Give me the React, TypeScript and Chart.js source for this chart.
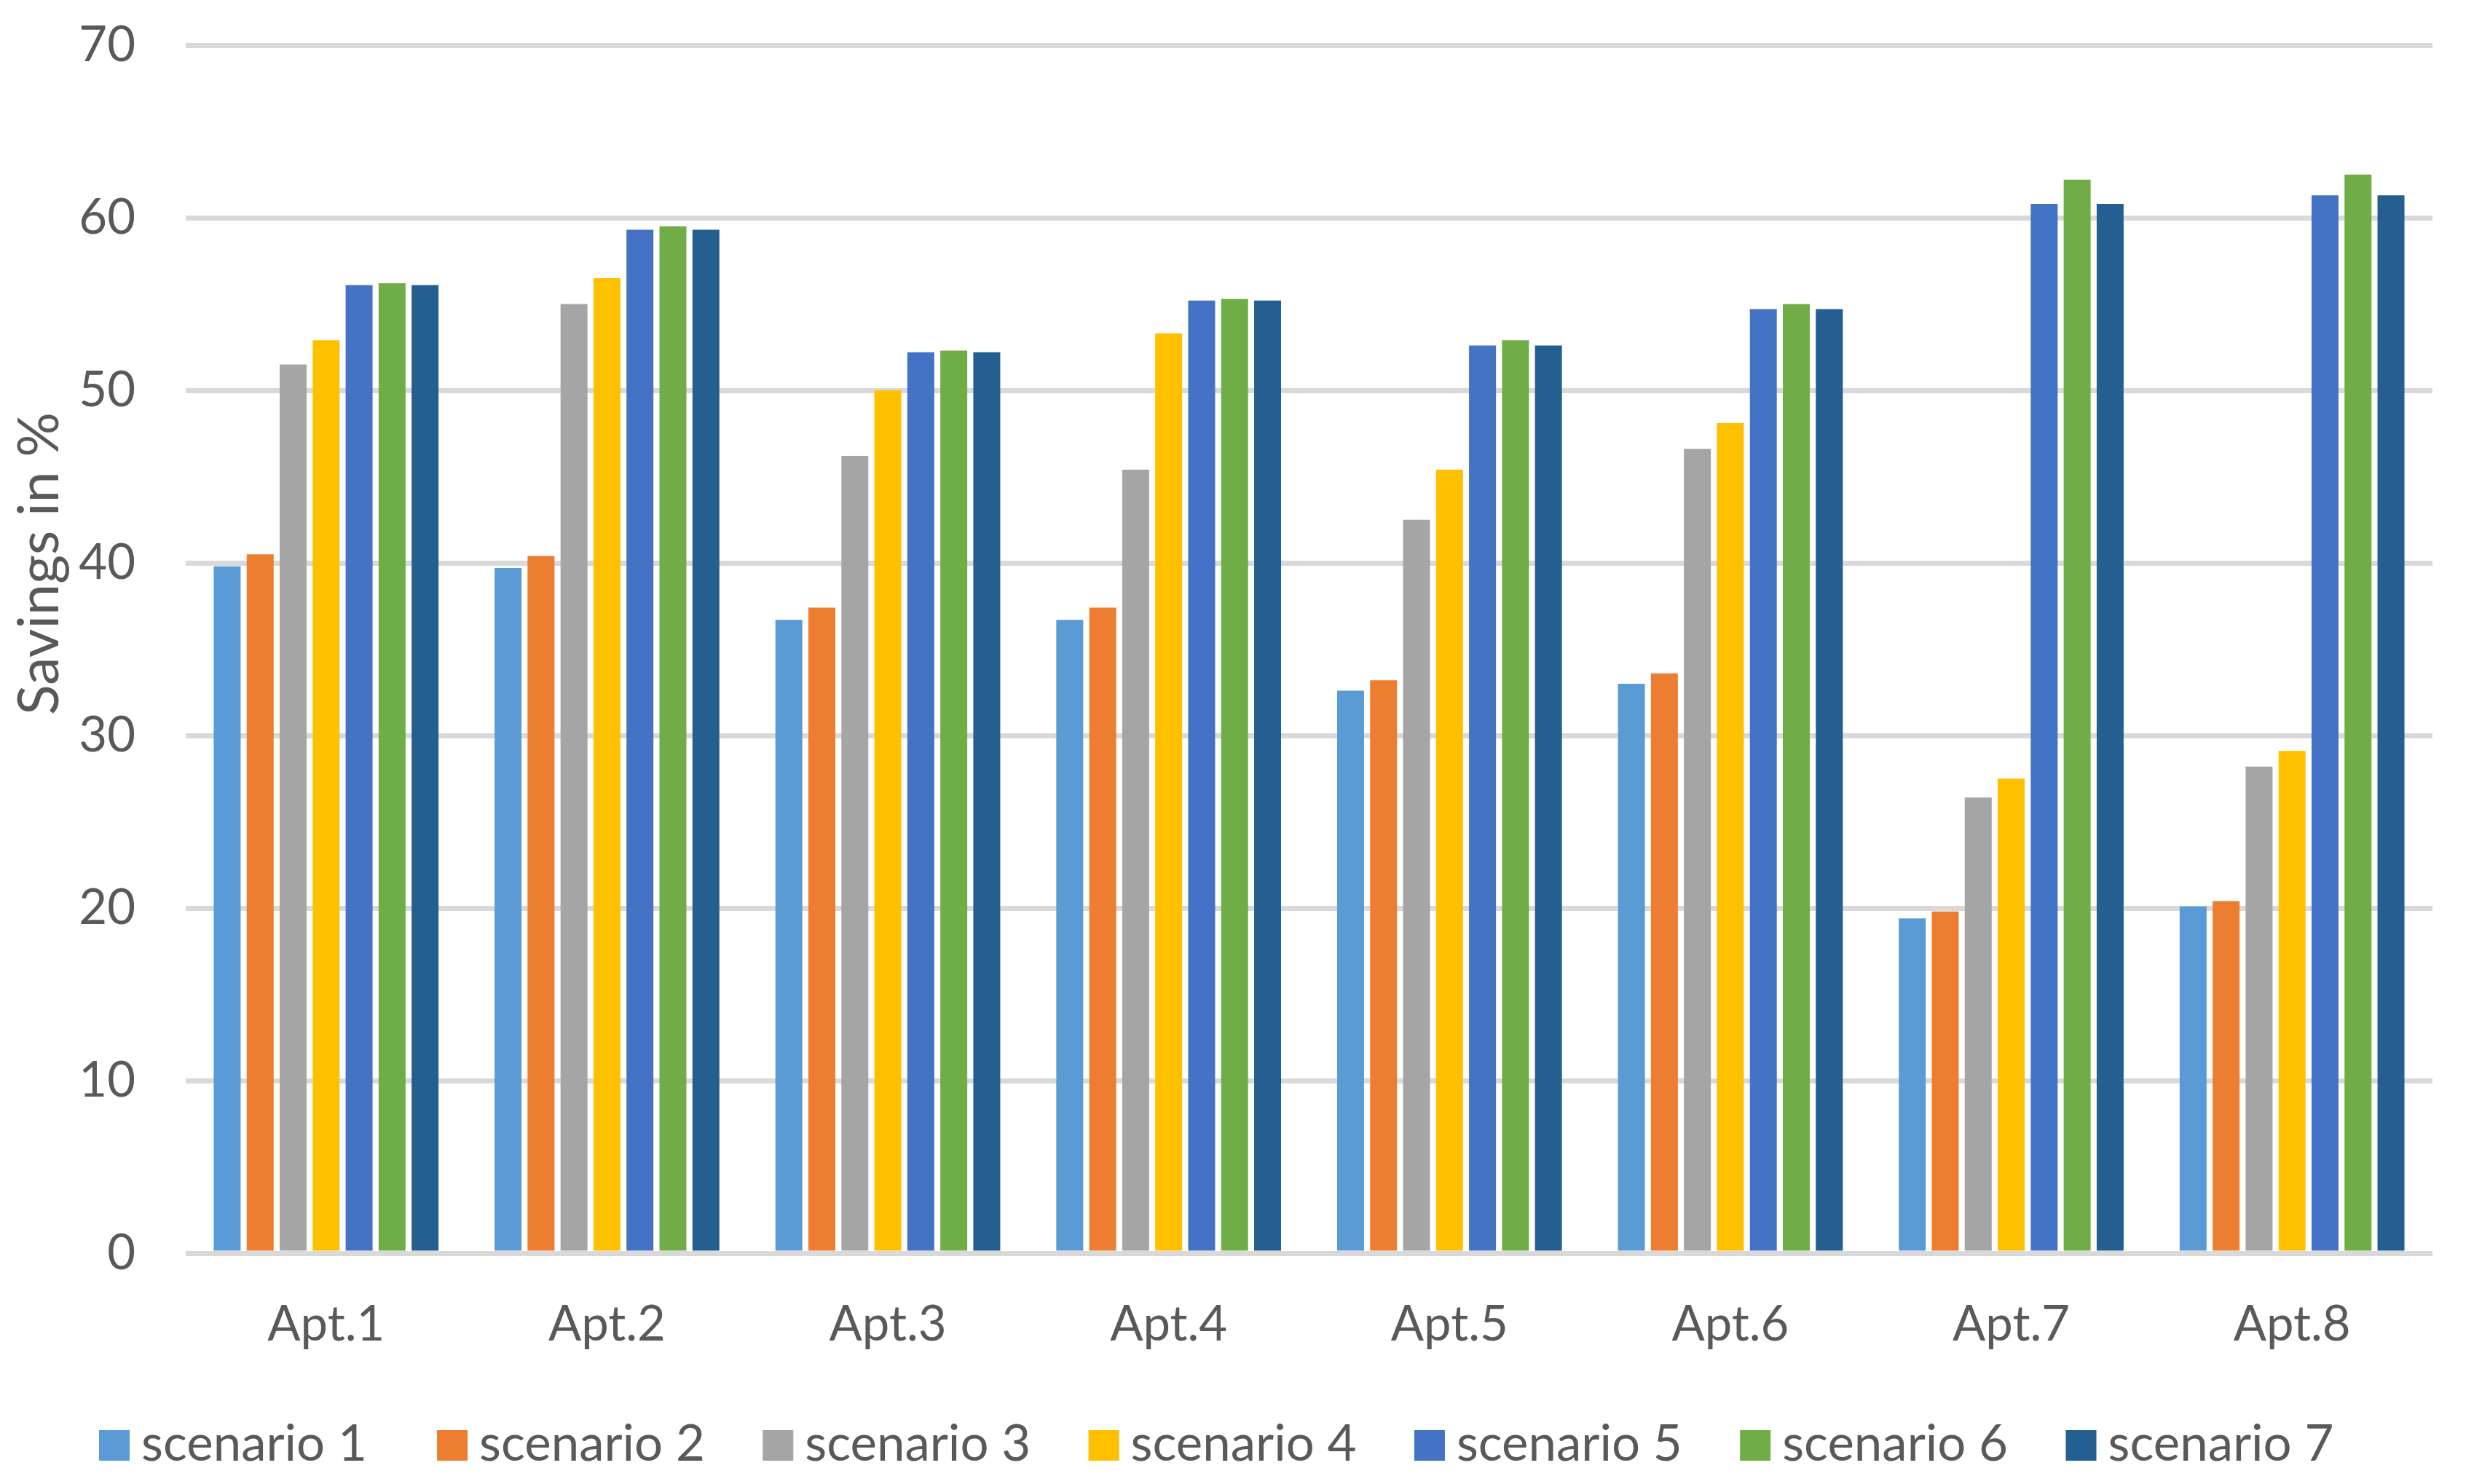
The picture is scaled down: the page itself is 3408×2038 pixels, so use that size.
import React, { useEffect, useRef } from "react";
import { Chart, registerables } from "chart.js";

Chart.register(...registerables);

const categories = ["Apt.1", "Apt.2", "Apt.3", "Apt.4", "Apt.5", "Apt.6", "Apt.7", "Apt.8"];
const seriesNames = ["scenario 1", "scenario 2", "scenario 3", "scenario 4", "scenario 5", "scenario 6", "scenario 7"];
const scenario1 = [39.8, 39.7, 36.7, 36.7, 32.6, 33.0, 19.4, 20.1];
const scenario2 = [40.5, 40.4, 37.4, 37.4, 33.2, 33.6, 19.8, 20.4];
const scenario3 = [51.5, 55.0, 46.2, 45.4, 42.5, 46.6, 26.4, 28.2];
const scenario4 = [52.9, 56.5, 50.0, 53.3, 45.4, 48.1, 27.5, 29.1];
const scenario5 = [56.1, 59.3, 52.2, 55.2, 52.6, 54.7, 60.8, 61.3];
const scenario6 = [56.2, 59.5, 52.3, 55.3, 52.9, 55.0, 62.2, 62.5];
const scenario7 = [56.1, 59.3, 52.2, 55.2, 52.6, 54.7, 60.8, 61.3];
const seriesValues = [scenario1, scenario2, scenario3, scenario4, scenario5, scenario6, scenario7];
const seriesColors = ["#5B9BD5", "#ED7D31", "#A5A5A5", "#FFC000", "#4472C4", "#70AD47", "#255E91"];
const yTitle = "Savings in %";
const yMin = 0;
const yMax = 70;
const yStep = 10;

const TEXT = "#595959";
const FONT = "Lato";

const titlePlugin = {
  id: "yTitle",
  afterDraw(chart: any) {
    const ctx = chart.ctx;
    ctx.save();
    ctx.fillStyle = TEXT;
    ctx.font = `77px ${FONT}`;
    ctx.textAlign = "center";
    ctx.textBaseline = "alphabetic";
    ctx.translate(80, 774);
    ctx.rotate(-Math.PI / 2);
    ctx.fillText(yTitle, 0, 0);
    ctx.restore();
  },
};

const legendPlugin = {
  id: "customLegend",
  afterDraw(chart: any) {
    const ctx = chart.ctx;
    ctx.save();
    ctx.font = `69px ${FONT}`;
    ctx.textAlign = "left";
    ctx.textBaseline = "alphabetic";
    chart.data.datasets.forEach((ds: any, i: number) => {
      const x = i === 0 ? 136 : 600 + (i - 1) * 447.3;
      ctx.fillStyle = ds.backgroundColor;
      ctx.fillRect(x, 1964, 42, 42);
      ctx.fillStyle = TEXT;
      ctx.fillText(ds.label, x + 58, 2006);
    });
    ctx.restore();
  },
};

export default function App() {
  const ref = useRef<HTMLCanvasElement | null>(null);
  useEffect(() => {
    if (!ref.current) return;
    const chart = new Chart(ref.current, {
      type: "bar",
      data: {
        labels: categories,
        datasets: seriesNames.map((name, i) => ({
          label: name,
          data: seriesValues[i],
          backgroundColor: seriesColors[i],
          borderWidth: 0,
          categoryPercentage: 0.822,
          barPercentage: 0.817,
        })),
      },
      options: {
        animation: false,
        responsive: false,
        devicePixelRatio: 1,
        layout: { padding: { top: 62, right: 68, left: 0, bottom: 0 } },
        plugins: {
          legend: { display: false },
          tooltip: { enabled: false },
          title: { display: false },
        },
        scales: {
          x: {
            grid: { display: false, drawTicks: false },
            border: { display: false },
            ticks: {
              color: TEXT,
              font: { family: FONT, size: 67 },
              padding: 58,
              autoSkip: false,
              maxRotation: 0,
            },
            afterFit: (scale: any) => {
              scale.height = 317;
              scale.paddingLeft = 0;
              scale.paddingRight = 0;
            },
          },
          y: {
            min: yMin,
            max: yMax,
            grid: { color: "#D9D9D9", lineWidth: 7, drawTicks: false },
            border: { display: false },
            ticks: {
              stepSize: yStep,
              color: TEXT,
              font: { family: FONT, size: 67 },
              padding: 69,
            },
            afterFit: (scale: any) => {
              scale.width = 255;
              scale.paddingTop = 0;
              scale.paddingBottom = 0;
            },
          },
        },
      },
      plugins: [titlePlugin, legendPlugin],
    });
    return () => chart.destroy();
  }, []);
  return (
    <div style={{ position: "fixed", left: 0, top: 0, width: 3408, height: 2038, background: "#fff" }}>
      <canvas ref={ref} width={3408} height={2038} style={{ display: "block", width: 3408, height: 2038 }} />
    </div>
  );
}
